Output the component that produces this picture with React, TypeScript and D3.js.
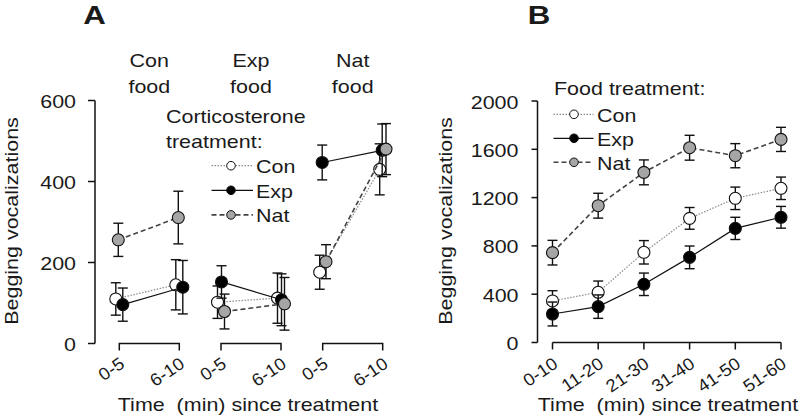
import React from "react";
import * as d3 from "d3";

// ---------- data ----------
const foods = ["Con", "Exp", "Nat"];
const aTimes = ["0-5", "6-10"];
const aTicks = [0, 200, 400, 600];
// Panel A: rows = food group, cols = time
const aConMean = [[110, 145], [102, 112], [176, 430]];
const aConErr = [[40, 62], [40, 62], [42, 63]];
const aExpMean = [[96, 139], [152, 108], [447, 477]];
const aExpErr = [[41, 66], [40, 64], [43, 65]];
const aNatMean = [[256, 311], [79, 98], [202, 480]];
const aNatErr = [[41, 65], [43, 65], [42, 63]];

const bTimes = ["0-10", "11-20", "21-30", "31-40", "41-50", "51-60"];
const bTicks = [0, 400, 800, 1200, 1600, 2000];
const bConMean = [344, 416, 747, 1028, 1194, 1277];
const bConErr = [85, 93, 97, 90, 93, 93];
const bExpMean = [236, 297, 482, 705, 945, 1037];
const bExpErr = [99, 97, 93, 94, 92, 90];
const bNatMean = [744, 1133, 1409, 1613, 1547, 1682];
const bNatErr = [102, 103, 103, 103, 100, 100];

const seriesNames = ["Con", "Exp", "Nat"];

// ---------- styles ----------
const FONT = "'Liberation Sans', Arial, sans-serif";
const TXT = "#1a1a1a";
const FS = 19;
const SX = 1.13;
const styles: Record<string, { fill: string; stroke: string; width: number; dash: string }> = {
  Con: { fill: "#ffffff", stroke: "#8a8a8a", width: 1.2, dash: "1.5,1.5" },
  Exp: { fill: "#000000", stroke: "#111111", width: 1.2, dash: "" },
  Nat: { fill: "#a6a6a6", stroke: "#444444", width: 1.6, dash: "5,3" },
};
// per-group horizontal jitter of series (layout)
const jitterA: Record<string, number>[] = [
  { Con: -3.5, Exp: 3.5, Nat: -1 },
  { Con: -3.5, Exp: 0.5, Nat: 3.5 },
  { Con: -3, Exp: -0.5, Nat: 3.3 },
];
const R = 6;
const CAP = 5;

function T({ x, y, rot = 0, anchor = "start", size = FS, sx = SX, weight = "normal", children }:
  { x: number; y: number; rot?: number; anchor?: string; size?: number; sx?: number; weight?: string; children: React.ReactNode }) {
  return (
    <text transform={`translate(${x},${y}) rotate(${rot}) scale(${sx},1)`} textAnchor={anchor}
      fontSize={size} fontWeight={weight} fill={TXT}>{children}</text>
  );
}

function ErrBar({ x, y0, y1 }: { x: number; y0: number; y1: number }) {
  return (
    <g stroke="#111" strokeWidth={1.4} fill="none">
      <line x1={x} x2={x} y1={y0} y2={y1} />
      <line x1={x - CAP} x2={x + CAP} y1={y0} y2={y0} />
      <line x1={x - CAP} x2={x + CAP} y1={y1} y2={y1} />
    </g>
  );
}

function Marker({ x, y, s }: { x: number; y: number; s: string }) {
  return <circle cx={x} cy={y} r={R} fill={styles[s].fill} stroke="#111" strokeWidth={1.1} />;
}

export default function App() {
  // ---------- Panel A scales ----------
  const yA = d3.scaleLinear().domain([0, 600]).range([343.5, 100.5]);
  const gA = d3.scalePoint<string>().domain(foods).range([149.3, 352.7]);
  const tA = d3.scalePoint<string>().domain(aTimes).range([-30, 30]);
  const aData: Record<string, { m: number[][]; e: number[][] }> = {
    Con: { m: aConMean, e: aConErr },
    Exp: { m: aExpMean, e: aExpErr },
    Nat: { m: aNatMean, e: aNatErr },
  };

  // ---------- Panel B scales ----------
  const yB = d3.scaleLinear().domain([0, 2000]).range([342.5, 101]);
  const xB = d3.scalePoint<string>().domain(bTimes).range([552.5, 781]);
  const bData: Record<string, { m: number[]; e: number[] }> = {
    Con: { m: bConMean, e: bConErr },
    Exp: { m: bExpMean, e: bExpErr },
    Nat: { m: bNatMean, e: bNatErr },
  };

  const lineGen = d3.line<[number, number]>().x((d) => d[0]).y((d) => d[1]);

  const axAx = 95;
  const axBx = 537.5;
  const XL_ROT = -34;
  const XL_FS = 17.5;
  const XL_SX = 1.06;
  const XL_Y = 366.5;

  return (
    <svg width={800} height={416} style={{ position: "absolute", left: 0, top: 0, background: "#fff" }} fontFamily={FONT}>
      <rect x={0} y={0} width={800} height={416} fill="#fff" />
      {/* Panel labels */}
      <T x={94.5} y={24} anchor="middle" size={25} sx={1.25} weight="bold">A</T>
      <T x={539} y={24} anchor="middle" size={25} sx={1.25} weight="bold">B</T>

      {/* ===== Panel A ===== */}
      {foods.map((f) => (
        <g key={"ft" + f}>
          <T x={gA(f) as number} y={67} anchor="middle">{f}</T>
          <T x={gA(f) as number} y={93} anchor="middle">food</T>
        </g>
      ))}
      {/* y axis */}
      <line x1={axAx} x2={axAx} y1={yA(600)} y2={yA(0)} stroke="#111" strokeWidth={1.5} />
      {aTicks.map((t) => (
        <g key={"ayt" + t}>
          <line x1={axAx - 7} x2={axAx} y1={yA(t)} y2={yA(t)} stroke="#111" strokeWidth={1.5} />
          <T x={76} y={yA(t) + 7.5} anchor="end">{t}</T>
        </g>
      ))}
      <T x={17.5} y={221} rot={-90} anchor="middle">Begging vocalizations</T>
      {/* x brackets */}
      {foods.map((f) => {
        const x0 = (gA(f) as number) + (tA(aTimes[0]) as number);
        const x1 = (gA(f) as number) + (tA(aTimes[1]) as number);
        const y0 = yA(0);
        return (
          <g key={"br" + f}>
            <path d={`M${x0},${y0 + 7}V${y0}H${x1}V${y0 + 7}`} fill="none" stroke="#111" strokeWidth={1.5} />
            {aTimes.map((t) => {
              const x = (gA(f) as number) + (tA(t) as number);
              return (
                <T key={t} x={x + 6.5} y={XL_Y} rot={XL_ROT} anchor="end" size={XL_FS} sx={XL_SX}>{t}</T>
              );
            })}
          </g>
        );
      })}
      <T x={248} y={411} anchor="middle">{"Time\u00a0\u00a0(min) since treatment"}</T>

      {/* data A */}
      {seriesNames.map((s) => (
        <g key={"sa" + s}>
          {foods.map((f, gi) => {
            const pts: [number, number][] = aTimes.map((t, ti) => [
              (gA(f) as number) + (tA(t) as number) + jitterA[gi][s],
              yA(aData[s].m[gi][ti]),
            ]);
            return (
              <g key={f}>
                {aTimes.map((t, ti) => (
                  <ErrBar key={t} x={pts[ti][0]}
                    y0={yA(aData[s].m[gi][ti] + aData[s].e[gi][ti])}
                    y1={yA(aData[s].m[gi][ti] - aData[s].e[gi][ti])} />
                ))}
                <path d={lineGen(pts) || ""} fill="none" stroke={styles[s].stroke} strokeWidth={styles[s].width} strokeDasharray={styles[s].dash} />
                {pts.map((p, i) => <Marker key={i} x={p[0]} y={p[1]} s={s} />)}
              </g>
            );
          })}
        </g>
      ))}

      {/* legend A */}
      <T x={166} y={123}>Corticosterone</T>
      <T x={166} y={148}>treatment:</T>
      {seriesNames.map((s, i) => {
        const y = 165.7 + i * 24.6;
        return (
          <g key={"la" + s}>
            <line x1={211.5} x2={253} y1={y} y2={y} stroke={styles[s].stroke} strokeWidth={styles[s].width} strokeDasharray={styles[s].dash} />
            <circle cx={231} cy={y} r={4.3} fill={styles[s].fill} stroke="#111" strokeWidth={1} />
            <T x={256} y={y + 7.3}>{s}</T>
          </g>
        );
      })}

      {/* ===== Panel B ===== */}
      <line x1={axBx} x2={axBx} y1={yB(2000)} y2={yB(0)} stroke="#111" strokeWidth={1.5} />
      {bTicks.map((t) => (
        <g key={"byt" + t}>
          <line x1={axBx - 6} x2={axBx} y1={yB(t)} y2={yB(t)} stroke="#111" strokeWidth={1.5} />
          <T x={518.5} y={yB(t) + 7.5} anchor="end">{t}</T>
        </g>
      ))}
      <T x={451.5} y={221} rot={-90} anchor="middle">Begging vocalizations</T>
      <line x1={xB(bTimes[0])} x2={xB(bTimes[bTimes.length - 1])} y1={yB(0)} y2={yB(0)} stroke="#111" strokeWidth={1.5} />
      {bTimes.map((t) => (
        <g key={"bxt" + t}>
          <line x1={xB(t)} x2={xB(t)} y1={yB(0)} y2={yB(0) + 7} stroke="#111" strokeWidth={1.5} />
          <T x={(xB(t) as number) + 6.5} y={XL_Y} rot={XL_ROT} anchor="end" size={XL_FS} sx={XL_SX}>{t}</T>
        </g>
      ))}
      <T x={668} y={411} anchor="middle">{"Time\u00a0\u00a0(min) since treatment"}</T>

      {seriesNames.map((s) => {
        const pts: [number, number][] = bTimes.map((t, i) => [xB(t) as number, yB(bData[s].m[i])]);
        return (
          <g key={"sb" + s}>
            {bTimes.map((t, i) => (
              <ErrBar key={t} x={pts[i][0]} y0={yB(bData[s].m[i] + bData[s].e[i])} y1={yB(bData[s].m[i] - bData[s].e[i])} />
            ))}
            <path d={lineGen(pts) || ""} fill="none" stroke={styles[s].stroke} strokeWidth={styles[s].width} strokeDasharray={styles[s].dash} />
            {pts.map((p, i) => <Marker key={i} x={p[0]} y={p[1]} s={s} />)}
          </g>
        );
      })}

      {/* legend B */}
      <T x={554} y={95}>Food treatment:</T>
      {seriesNames.map((s, i) => {
        const y = 114.3 + i * 24;
        return (
          <g key={"lb" + s}>
            <line x1={553.5} x2={593.5} y1={y} y2={y} stroke={styles[s].stroke} strokeWidth={styles[s].width} strokeDasharray={styles[s].dash} />
            <circle cx={574} cy={y} r={4.3} fill={styles[s].fill} stroke="#111" strokeWidth={1} />
            <T x={597} y={y + 7.3}>{s}</T>
          </g>
        );
      })}
    </svg>
  );
}
